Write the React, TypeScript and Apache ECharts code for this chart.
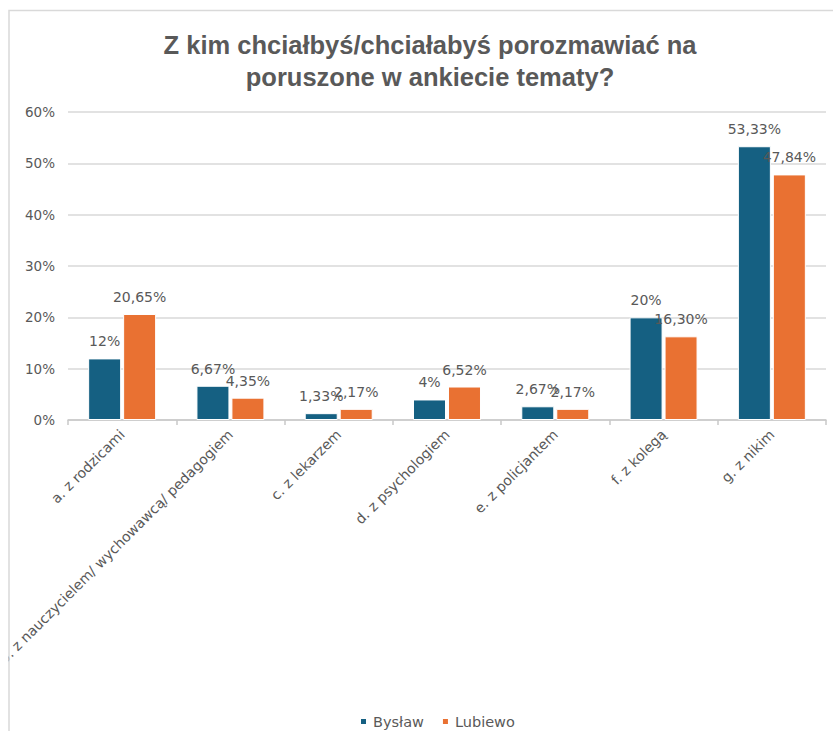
import React, { useEffect, useRef } from "react";
import * as echarts from "echarts";

const categories = [
  "a. z rodzicami",
  "b. z nauczycielem/ wychowawcą/ pedagogiem",
  "c. z lekarzem",
  "d. z psychologiem",
  "e. z policjantem",
  "f. z kolegą",
  "g. z nikim",
];
const bystaw = [12, 6.67, 1.33, 4, 2.67, 20, 53.33];
const lubiewo = [20.65, 4.35, 2.17, 6.52, 2.17, 16.3, 47.84];
const yTicks = [0, 10, 20, 30, 40, 50, 60];

const TEXT = "#595959";
const FONT = "'DejaVu Sans', Verdana, sans-serif";
const TITLE_FONT = "'Liberation Sans', Arial, sans-serif";

export default function App() {
  const ref = useRef<HTMLDivElement>(null);
  useEffect(() => {
    if (!ref.current) return;
    const chart = echarts.init(ref.current, undefined, { renderer: "svg" });
    const fmtB = (v: number) => String(v).replace(".", ",") + "%";
    const fmtL = (v: number) => v.toFixed(2).replace(".", ",") + "%";
    chart.setOption({
      animation: false,
      backgroundColor: "#ffffff",
      textStyle: { fontFamily: FONT },
      title: {
        text: "Z kim chciałbyś/chciałabyś porozmawiać na\nporuszone w ankiecie tematy?",
        left: 425,
        top: 24,
        textAlign: "center",
        textStyle: {
          fontFamily: TITLE_FONT,
          fontSize: 25.5,
          fontWeight: "bold",
          color: TEXT,
          lineHeight: 32,
        },
      },
      legend: {
        left: 354,
        top: 709,
        itemWidth: 7,
        itemHeight: 7,
        itemGap: 17,
        icon: "rect",
        textStyle: { color: TEXT, fontSize: 14.5, fontFamily: FONT, padding: [0, 0, 0, 1] },
        data: ["Bysław", "Lubiewo"],
      },
      grid: {
        left: 68,
        right: 7,
        top: 112,
        bottom: 311,
        containLabel: false,
        outerBoundsMode: "none",
      },
      xAxis: {
        type: "category",
        data: categories,
        axisLine: { lineStyle: { color: "#c8c8c8", width: 1.5 } },
        axisTick: { show: true, length: 5, lineStyle: { color: "#c8c8c8", width: 1.5 } },
        axisLabel: {
          rotate: 45,
          interval: 0,
          margin: 12,
          color: TEXT,
          fontSize: 14,
          fontFamily: FONT,
        },
      },
      yAxis: {
        type: "value",
        min: 0,
        max: 60,
        interval: 10,
        axisLine: { show: false },
        axisTick: { show: false },
        axisLabel: {
          formatter: (v: number) => (yTicks.includes(v) ? v + "%" : ""),
          margin: 13,
          color: TEXT,
          fontSize: 13.5,
          fontFamily: FONT,
        },
        splitLine: { lineStyle: { color: "#d9d9d9", width: 1.5 } },
      },
      series: [
        {
          name: "Bysław",
          type: "bar",
          data: bystaw,
          barWidth: 33,
          barGap: "6%",
          itemStyle: { color: "#156082", borderColor: "#ffffff", borderWidth: 1 },
          label: {
            show: true,
            position: "top",
            distance: 10,
            color: TEXT,
            fontSize: 14,
            fontFamily: FONT,
            formatter: (p: any) => fmtB(p.value),
          },
        },
        {
          name: "Lubiewo",
          type: "bar",
          data: lubiewo,
          barWidth: 33,
          barGap: "6%",
          itemStyle: { color: "#E97132", borderColor: "#ffffff", borderWidth: 1 },
          label: {
            show: true,
            position: "top",
            distance: 10,
            color: TEXT,
            fontSize: 14,
            fontFamily: FONT,
            formatter: (p: any) => fmtL(p.value),
          },
        },
      ],
      graphic: [
        {
          type: "rect",
          z: 100,
          shape: { x: 0, y: 0, width: 8, height: 731 },
          style: { fill: "#ffffff" },
        },
        {
          type: "polyline",
          z: 101,
          shape: { points: [[9, 731], [9, 10.5], [833, 10.5]] },
          style: { stroke: "#d9d9d9", lineWidth: 1.5, fill: null },
        },
      ],
    });
    return () => chart.dispose();
  }, []);
  return (
    <div
      ref={ref}
      style={{ position: "fixed", left: 0, top: 0, width: 833, height: 731 }}
    />
  );
}
